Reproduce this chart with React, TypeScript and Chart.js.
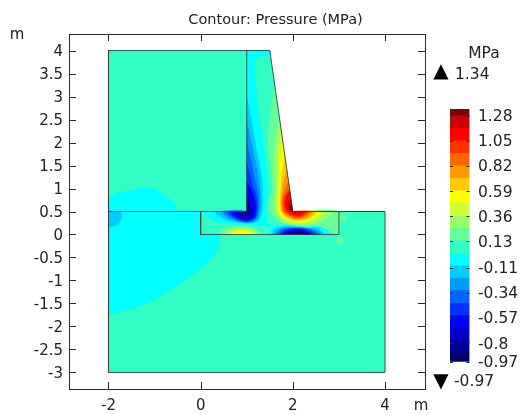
import React, { useEffect, useRef } from "react";
import { Chart, registerables } from "chart.js";

Chart.register(...registerables);

type P = [number, number];
const FONT = "'DejaVu Sans', sans-serif";
const INK = "#222222";
const LINE = "#2a2a2a";

const titleText = "Contour: Pressure (MPa)";
const unitText = "MPa";
const axisUnit = "m";
const maxValue = "1.34";
const minValue = "-0.97";

// Colour bar
const levelEdges = [-0.97, -0.893, -0.778, -0.664, -0.55, -0.436, -0.321, -0.207, -0.093, 0.021, 0.135, 0.25, 0.364, 0.478, 0.592, 0.707, 0.821, 0.935, 1.049, 1.164, 1.278, 1.34];
const levelColors = ["#000066", "#000099", "#0000cc", "#0000ff", "#0033ff", "#0066ff", "#0099ff", "#00ccff", "#00ffff", "#33ffc4", "#66ff99", "#99ff66", "#ccff33", "#ffff00", "#ffcc00", "#ff9900", "#ff6600", "#ff3300", "#ff0000", "#cc0000", "#800000"];
const barTicks = [1.28, 1.05, 0.82, 0.59, 0.36, 0.13, -0.11, -0.34, -0.57, -0.8, -0.97];

const C = { c20: "#000099", c19: "#0000cc", c18: "#0000ff", c17: "#0033ff", c16: "#0066ff", c15: "#0099ff", c14: "#00ccff", c13: "#00ffff", base: "#33ffc4", c11: "#66ff99", c10: "#99ff66", c9: "#ccff33", c8: "#ffff00", c7: "#ffcc00", c6: "#ff9900", c5: "#ff6600", c4: "#ff3300", c3: "#ff0000", c2: "#cc0000", c1: "#800000" };

// Domain
const domain: P[] = [[-2, -3], [4, -3], [4, 0.5], [2, 0.5], [1.5, 4], [-2, 4], [-2, -3]];
const edgeWall: P[] = [[1, 0.5], [1, 4]];
const edgeLeft: P[] = [[-2, 0.5], [1, 0.5]];
const edgeRight: P[] = [[2, 0.5], [4, 0.5]];
const edgeBase: P[] = [[0, 0.5], [0, 0], [3, 0], [3, 0.5]];

// Low pressure zones outside the wall
const soilCyan: P[] = [[-2, 0.5], [0, 0.5], [0, 0.02], [0.4, 0], [0.41, -0.2], [0.28, -0.48], [-0.23, -0.92], [-0.95, -1.39], [-1.5, -1.62], [-2, -1.73]];
const soilPatch: P[] = [[-2, 0.53], [-1.75, 0.53], [-1.71, 0.38], [-1.78, 0.24], [-1.9, 0.17], [-2, 0.16]];
const blockLump: P[] = [[-2, 0.5], [-2, 0.75], [-1.85, 0.9], [-1.5, 0.95], [-1.35, 1], [-1, 1], [-0.8, 0.85], [-0.6, 0.72], [-0.45, 0.5]];

// High pressure zones along the sloped face and under the heel
const pos11: P[] = [[1.6, 3.3], [1.5, 2.5], [1.46, 2], [1.52, 1.5], [1.55, 1], [1.5, 0.75], [1.47, 0.55], [1.55, 0.42], [1.68, 0.3], [1.9, 0.2], [2.3, 0.15], [2.6, 0.18], [2.85, 0.05], [3, 0.05], [3, 0.5], [2, 0.5]];
const pos10: P[] = [[1.714, 2.5], [1.62, 2], [1.6, 1.5], [1.62, 1], [1.6, 0.7], [1.62, 0.45], [1.75, 0.3], [2, 0.22], [2.3, 0.2], [2.6, 0.28], [2.8, 0.4], [2.9, 0.5], [2, 0.5]];
const pos9: P[] = [[1.75, 2.25], [1.68, 1.8], [1.67, 1.4], [1.66, 1], [1.65, 0.7], [1.68, 0.45], [1.8, 0.32], [2.05, 0.25], [2.3, 0.25], [2.55, 0.35], [2.7, 0.5], [2, 0.5]];
const pos8: P[] = [[1.786, 2], [1.72, 1.6], [1.72, 1.2], [1.7, 0.9], [1.69, 0.65], [1.72, 0.47], [1.85, 0.34], [2.1, 0.28], [2.3, 0.3], [2.5, 0.4], [2.6, 0.5], [2, 0.5]];
const pos7: P[] = [[1.829, 1.7], [1.76, 1.3], [1.74, 1], [1.72, 0.75], [1.74, 0.5], [1.87, 0.36], [2.1, 0.3], [2.3, 0.33], [2.45, 0.42], [2.52, 0.5], [2, 0.5]];
const pos6: P[] = [[1.871, 1.4], [1.79, 1.1], [1.76, 0.85], [1.75, 0.65], [1.78, 0.48], [1.9, 0.38], [2.1, 0.33], [2.28, 0.36], [2.4, 0.44], [2.45, 0.5], [2, 0.5]];
const pos5: P[] = [[1.907, 1.15], [1.8, 0.9], [1.77, 0.7], [1.8, 0.5], [1.93, 0.4], [2.1, 0.35], [2.3, 0.42], [2.38, 0.5], [2, 0.5]];
const pos4: P[] = [[1.929, 1], [1.83, 0.85], [1.79, 0.68], [1.83, 0.5], [1.95, 0.42], [2.12, 0.38], [2.27, 0.44], [2.33, 0.5], [2, 0.5]];
const pos3: P[] = [[1.936, 0.95], [1.85, 0.8], [1.83, 0.65], [1.87, 0.52], [1.97, 0.44], [2.12, 0.41], [2.22, 0.45], [2.27, 0.5], [2, 0.5]];
const pos2: P[] = [[1.96, 0.78], [1.9, 0.68], [1.89, 0.58], [1.95, 0.5], [2.05, 0.46], [2.15, 0.5], [2, 0.5]];
const pos1: P[] = [[1.974, 0.68], [1.93, 0.6], [1.95, 0.52], [2, 0.5]];

// Positive patch under the toe, and small blotches
const toe11: P[] = [[0.38, 0], [0.45, 0.1], [0.65, 0.17], [1, 0.17], [1.2, 0.12], [1.32, 0]];
const toe10: P[] = [[0.5, 0], [0.6, 0.09], [0.8, 0.14], [1.05, 0.13], [1.2, 0.05], [1.25, 0]];
const toe8: P[] = [[0.6, 0], [0.72, 0.07], [0.95, 0.09], [1.13, 0.04], [1.17, 0]];
const blotchA: P[] = [[2.95, -0.1], [3, -0.05], [3.07, -0.08], [3.09, -0.17], [3.02, -0.22], [2.95, -0.18]];
const blotchB: P[] = [[3.02, 0.42], [3.1, 0.45], [3.17, 0.37], [3.12, 0.28], [3.04, 0.3]];

// Low pressure along the inner wall face
const neg13: P[] = [[1, 4], [1.5, 4], [1.51, 3.92], [1.3, 3.88], [1.17, 3.75], [1.2, 3.2], [1.25, 2.7], [1.33, 2.2], [1.38, 1.8], [1.42, 1.4], [1.45, 1], [1.43, 0.7], [1.4, 0.45], [1.45, 0.25], [1.5, 0.18], [1.3, 0.2], [1.1, 0.22], [0.8, 0.22], [0.5, 0.24], [0.3, 0.3], [0.15, 0.4], [0.08, 0.5], [1, 0.5]];
const neg14: P[] = [[1, 3], [1.08, 2.6], [1.15, 2.2], [1.22, 1.8], [1.3, 1.4], [1.34, 1], [1.35, 0.7], [1.32, 0.45], [1.25, 0.3], [1.05, 0.25], [0.8, 0.27], [0.55, 0.32], [0.42, 0.4], [0.3, 0.5], [1, 0.5]];
const neg15: P[] = [[1, 2.5], [1.08, 2.1], [1.16, 1.7], [1.23, 1.4], [1.28, 1], [1.3, 0.7], [1.27, 0.45], [1.2, 0.3], [1.02, 0.26], [0.8, 0.29], [0.6, 0.36], [0.45, 0.5], [1, 0.5]];
const neg16: P[] = [[1, 2], [1.07, 1.7], [1.13, 1.4], [1.2, 1.1], [1.25, 0.85], [1.25, 0.55], [1.2, 0.35], [1.03, 0.27], [0.82, 0.3], [0.65, 0.38], [0.53, 0.5], [1, 0.5]];
const neg17: P[] = [[1, 1.55], [1.07, 1.3], [1.13, 1.05], [1.2, 0.85], [1.23, 0.65], [1.19, 0.38], [1.03, 0.29], [0.84, 0.32], [0.68, 0.4], [0.6, 0.5], [1, 0.5]];
const neg18: P[] = [[1, 1.15], [1.08, 1], [1.15, 0.82], [1.19, 0.65], [1.19, 0.5], [1.15, 0.38], [1.02, 0.31], [0.85, 0.34], [0.72, 0.42], [0.66, 0.5], [1, 0.5]];
const neg19: P[] = [[1, 0.92], [1.07, 0.8], [1.12, 0.68], [1.13, 0.52], [1.1, 0.38], [1, 0.33], [0.87, 0.37], [0.75, 0.5], [1, 0.5]];
const neg20: P[] = [[1, 0.72], [1.05, 0.66], [1.09, 0.55], [1.05, 0.42], [0.98, 0.36], [0.88, 0.4], [0.82, 0.5], [1, 0.5]];

// Low pressure lobe under the heel
const heel13: P[] = [[1.5, 0], [1.52, 0.15], [1.7, 0.2], [1.95, 0.2], [2.3, 0.17], [2.55, 0.17], [2.75, 0.1], [2.8, 0]];
const heel14: P[] = [[1.55, 0], [1.6, 0.12], [1.8, 0.17], [2, 0.17], [2.3, 0.14], [2.55, 0.14], [2.68, 0]];
const heel15: P[] = [[1.6, 0], [1.68, 0.11], [1.85, 0.15], [2.1, 0.15], [2.4, 0.12], [2.6, 0.05], [2.6, 0]];
const heel16: P[] = [[1.66, 0], [1.75, 0.11], [1.95, 0.14], [2.2, 0.14], [2.45, 0.09], [2.55, 0]];
const heel17: P[] = [[1.72, 0], [1.82, 0.1], [2, 0.13], [2.25, 0.12], [2.45, 0.05], [2.5, 0]];
const heel18: P[] = [[1.78, 0], [1.88, 0.09], [2.05, 0.12], [2.25, 0.1], [2.42, 0]];
const heel19: P[] = [[1.82, 0], [1.95, 0.08], [2.1, 0.1], [2.28, 0.07], [2.38, 0]];
const heel20: P[] = [[1.9, 0], [2.05, 0.07], [2.2, 0.06], [2.3, 0]];

// back to front; the first entry is the straight-sided domain
const fills: [P[], string][] = [
  [domain, C.base],
  [soilCyan, C.c13], [soilPatch, C.c14], [blockLump, C.c13],
  [pos11, C.c11], [pos10, C.c10], [pos9, C.c9], [pos8, C.c8], [pos7, C.c7], [pos6, C.c6], [pos5, C.c5], [pos4, C.c4], [pos3, C.c3], [pos2, C.c2], [pos1, C.c1],
  [toe11, C.c11], [toe10, C.c10], [toe8, C.c8], [blotchA, C.c11], [blotchB, C.c11],
  [neg13, C.c13], [neg14, C.c14], [neg15, C.c15], [neg16, C.c16], [neg17, C.c17], [neg18, C.c18], [neg19, C.c19], [neg20, C.c20],
  [heel13, C.c13], [heel14, C.c14], [heel15, C.c15], [heel16, C.c16], [heel17, C.c17], [heel18, C.c18], [heel19, C.c19], [heel20, C.c20],
];
const outlines: P[][] = [domain, edgeWall, edgeLeft, edgeRight, edgeBase];

const toXY = (p: P[]) => p.map(([x, y]) => ({ x, y }));

const framePlugin = {
  id: "frame",
  afterDatasetsDraw(chart: any) {
    const { ctx, chartArea: a, scales } = chart;
    ctx.save();
    ctx.fillStyle = LINE;
    const w = a.right - a.left;
    const h = a.bottom - a.top;
    ctx.fillRect(a.left, a.top, w + 1, 1);
    ctx.fillRect(a.left, a.bottom, w + 1, 1);
    ctx.fillRect(a.left, a.top, 1, h + 1);
    ctx.fillRect(a.right, a.top, 1, h + 1);
    const len = 7;
    for (const t of scales.x.ticks) {
      const px = Math.round(scales.x.getPixelForValue(t.value));
      ctx.fillRect(px, a.top, 1, len);
      ctx.fillRect(px, a.bottom - len, 1, len);
    }
    for (const t of scales.y.ticks) {
      const py = Math.round(scales.y.getPixelForValue(t.value));
      ctx.fillRect(a.left, py, len, 1);
      ctx.fillRect(a.right - len, py, len, 1);
    }
    ctx.fillStyle = INK;
    ctx.font = `14.5px ${FONT}`;
    ctx.textBaseline = "middle";
    ctx.textAlign = "center";
    ctx.fillText(titleText, 275.5, 20);
    ctx.font = `15px ${FONT}`;
    ctx.fillText(axisUnit, 17, 35);
    ctx.fillText(axisUnit, 421, 406);
    ctx.restore();
  },
};

const barPlugin = {
  id: "barMarks",
  afterDatasetsDraw(chart: any) {
    const { ctx, chartArea: a, scales } = chart;
    ctx.save();
    ctx.fillStyle = LINE;
    for (const v of barTicks) {
      const py = Math.round(scales.y.getPixelForValue(v));
      ctx.fillRect(a.left, py, 3, 1);
      ctx.fillRect(a.right - 3, py, 3, 1);
    }
    ctx.fillStyle = INK;
    ctx.textBaseline = "middle";
    ctx.font = `15.5px ${FONT}`;
    ctx.textAlign = "center";
    ctx.fillText(unitText, 484, 54);
    ctx.textAlign = "left";
    ctx.fillText(maxValue, 455, 75);
    ctx.fillText(minValue, 454, 382);
    ctx.fillStyle = "#000000";
    ctx.font = `20px ${FONT}`;
    ctx.textAlign = "center";
    ctx.fillText("▲", 441, 72);
    ctx.fillText("▼", 441, 382);
    ctx.restore();
  },
};

export default function App() {
  const mainRef = useRef<HTMLCanvasElement>(null);
  const barRef = useRef<HTMLCanvasElement>(null);

  useEffect(() => {
    const tickFont = { family: FONT, size: 15 };
    const main = new Chart(mainRef.current!, {
      type: "scatter",
      data: {
        datasets: [
          ...outlines.map((pts, i) => ({
            data: toXY(pts), showLine: true, fill: false, borderColor: "rgba(50,60,58,0.85)", borderWidth: 1, pointRadius: 0, order: i,
          })),
          ...fills.map(([pts, color], i) => ({
            data: toXY(pts), showLine: true, fill: "shape", backgroundColor: color, borderColor: color, borderWidth: 0.5, pointRadius: 0, tension: i === 0 ? 0 : 0.25, order: 1000 - i,
          })),
        ] as any,
      },
      options: {
        animation: false, responsive: false,
        layout: { padding: { top: 34, right: 98, left: 0, bottom: 0 } },
        plugins: { legend: { display: false }, tooltip: { enabled: false } },
        scales: {
          x: {
            type: "linear", min: -2.857, max: 4.868,
            afterFit: (s: any) => { s.height = 26; },
            grid: { display: false, drawTicks: false }, border: { display: false },
            ticks: { stepSize: 2, includeBounds: false, font: tickFont, color: INK, padding: 8, maxRotation: 0, autoSkip: false, callback: (v: any) => String(v) },
          },
          y: {
            type: "linear", min: -3.359, max: 4.359,
            afterFit: (s: any) => { s.width = 69; },
            grid: { display: false, drawTicks: false }, border: { display: false },
            ticks: { stepSize: 0.5, includeBounds: false, font: tickFont, color: INK, padding: 6, labelOffset: 1.5, autoSkip: false, callback: (v: any) => String(v) },
          },
        },
      } as any,
      plugins: [framePlugin],
    });

    const bar = new Chart(barRef.current!, {
      type: "bar",
      data: {
        labels: ["MPa"],
        datasets: levelColors.map((color, i) => ({
          data: [[levelEdges[i], levelEdges[i + 1]]], backgroundColor: color, borderWidth: 0, barPercentage: 1, categoryPercentage: 1,
        })) as any,
      },
      options: {
        animation: false, responsive: false,
        layout: { padding: { top: 109, right: 0, left: 450, bottom: 53.3 } },
        plugins: { legend: { display: false }, tooltip: { enabled: false } },
        scales: {
          x: { stacked: true, display: false },
          y: {
            position: "right", min: -0.97, max: 1.34,
            afterBuildTicks: (s: any) => { s.ticks = barTicks.map((value) => ({ value })); },
            afterFit: (s: any) => { s.width = 53.5; },
            grid: { display: false, drawTicks: false }, border: { display: false },
            ticks: { font: { family: FONT, size: 15.5 }, color: INK, padding: 8.5, labelOffset: 1.5, autoSkip: false, callback: (v: any) => String(v) },
          },
        },
      } as any,
      plugins: [barPlugin],
    });

    return () => { main.destroy(); bar.destroy(); };
  }, []);

  const style: React.CSSProperties = { position: "absolute", left: 0, top: 0 };
  return (
    <div style={{ position: "absolute", left: 0, top: 0, width: 523, height: 415, overflow: "hidden" }}>
      <canvas ref={mainRef} width={523} height={415} style={style} />
      <canvas ref={barRef} width={523} height={415} style={style} />
    </div>
  );
}
